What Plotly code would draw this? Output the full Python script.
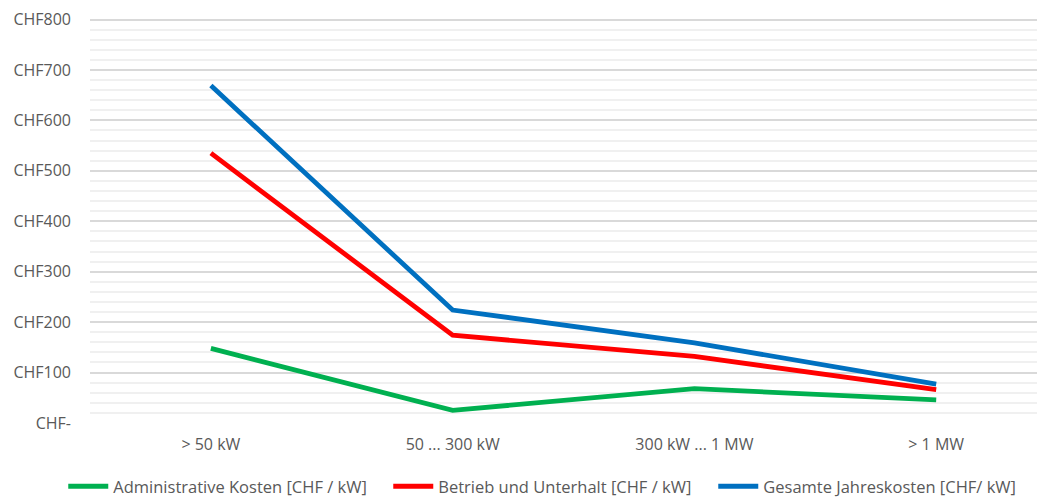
import plotly.graph_objects as go

categories = ["> 50 kW", "50 ... 300 kW", "300 kW ... 1 MW", "> 1 MW"]
admin = [148, 25, 68, 46]
betrieb = [535, 174, 132, 66]
gesamt = [669, 224, 159, 77]

tick_vals = [0, 100, 200, 300, 400, 500, 600, 700, 800]
tick_text = ["CHF-", "CHF100", "CHF200", "CHF300", "CHF400", "CHF500", "CHF600", "CHF700", "CHF800"]
minor_vals = [v for v in range(0, 801, 20) if v % 100]

fig = go.Figure()
series = [
    ("Administrative Kosten [CHF / kW]", admin, "#00b050"),
    ("Betrieb und Unterhalt [CHF / kW]", betrieb, "#ff0000"),
    ("Gesamte Jahreskosten [CHF/ kW]", gesamt, "#0070c0"),
]
for name, vals, col in series:
    fig.add_trace(go.Scatter(x=categories, y=vals, mode="lines", name=name,
                             line=dict(color=col, width=4.8)))

# page body adds an 8px offset, so the figure is sized to the remaining area
fig.update_layout(
    width=1037, height=490,
    plot_bgcolor="white", paper_bgcolor="white",
    margin=dict(l=82, r=0, t=10, b=75, autoexpand=False),
    font=dict(family="Open Sans", size=16, color="#595959"),
    showlegend=True,
    legend=dict(orientation="h", x=-0.028, xanchor="left", y=-0.2, yanchor="bottom",
                font=dict(size=16.5, color="#595959"), itemwidth=40, tracegroupgap=0,
                entrywidth=270, entrywidthmode="pixels"),
)
fig.update_xaxes(type="category", range=[-0.5, 3.45], showgrid=False, zeroline=False,
                 showline=False, ticks="", automargin=False, ticklabelstandoff=10,
                 tickfont=dict(size=16, color="#595959"))
fig.update_yaxes(range=[0, 803], tickvals=tick_vals, ticktext=tick_text,
                 showgrid=True, gridcolor="#d9d9d9", gridwidth=2, zeroline=False,
                 minor=dict(tickvals=minor_vals, showgrid=True, gridcolor="#f0f0f0", gridwidth=1.5),
                 ticks="", ticklabelstandoff=18, automargin=False, ticklabeloverflow="allow",
                 tickfont=dict(size=16, color="#595959"))

fig.write_html("out.html")
